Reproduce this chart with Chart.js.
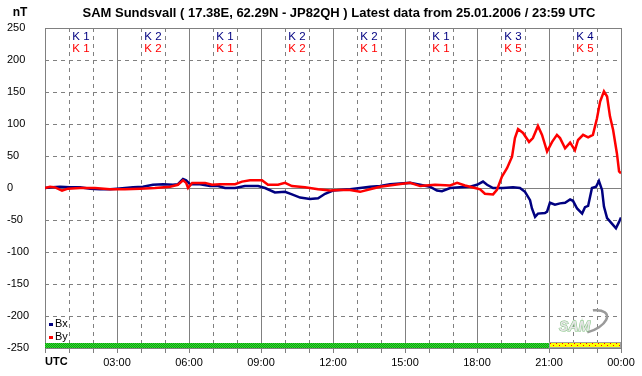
<!DOCTYPE html>
<html><head><meta charset="utf-8">
<script src="https://cdn.jsdelivr.net/npm/chart.js@4/dist/chart.umd.min.js"></script>
<style>html,body{margin:0;padding:0;background:#fff;}canvas{display:block;}</style>
</head><body>
<div style="width:642px;height:376px;position:relative"><canvas id="c" width="642" height="376"></canvas></div>
<script>
const titleText = "SAM Sundsvall ( 17.38E, 62.29N - JP82QH ) Latest data from 25.01.2006 / 23:59 UTC";
const unitLabel = "nT";
const seriesNames = ["Bx", "By"];
const seriesColors = ["#000080", "#ff0000"];

const bxHours = [0,0.29,0.63,1.04,1.46,1.88,2.29,2.71,3,3.33,3.67,4.08,4.5,4.92,5.33,5.54,5.75,5.88,6.04,6.46,6.88,7.21,7.5,7.92,8.33,8.88,9.17,9.58,10,10.29,10.63,11.04,11.38,11.67,12,12.29,12.71,13.13,13.54,13.96,14.38,14.79,15.21,15.63,16.04,16.33,16.54,16.88,17.29,17.71,18,18.25,18.42,18.67,19.08,19.5,19.79,20,20.21,20.29,20.42,20.54,20.83,20.92,21.04,21.25,21.46,21.67,21.88,22,22.17,22.38,22.5,22.63,22.79,22.96,23.08,23.21,23.29,23.42,23.63,23.79,23.92,24];
const bxValues = [0,1,2,1,1,-1,-2,-2,-1,0,1,2,5,6,5,6,14,12,6,6,3,3,0,0,3,3,0,-7,-6,-10,-15,-17,-16,-9,-4,-3,-2,0,2,3,6,7,8,5,2,-4,-5,0,1,2,5,10,5,0,0,1,0,-6,-19,-32,-45,-40,-39,-37,-23,-26,-24,-23,-18,-20,-32,-40,-30,-28,0,2,11,-3,-29,-47,-56,-63,-53,-46];

const byHours = [0,0.21,0.42,0.71,0.96,1.46,2.08,2.71,3.33,3.96,4.58,5.21,5.54,5.75,5.88,5.96,6.13,6.67,6.96,7.29,7.92,8.21,8.54,9.04,9.29,9.71,10,10.29,10.83,11.38,11.88,12.29,12.71,13.13,13.54,13.96,14.58,15.21,15.63,16.25,16.88,17.17,17.5,17.92,18.13,18.33,18.67,18.83,19.04,19.25,19.46,19.58,19.71,19.92,20.17,20.33,20.54,20.71,20.92,21.13,21.33,21.46,21.67,21.88,22.08,22.21,22.42,22.63,22.83,23,23.13,23.29,23.42,23.54,23.67,23.83,23.92,24];
const byValues = [0,2,1,-4,-1,0,0,-2,-2,-1,0,2,5,12,8,0,8,8,5,6,6,10,12,12,5,5,8,3,1,-2,-4,-3,-3,-6,-2,2,5,8,3,5,4,8,4,0,-2,-9,-10,-3,18,31,49,78,92,86,72,78,97,83,57,72,83,78,62,71,59,75,83,79,83,109,135,151,143,112,91,54,26,23];

const kIndexBx = [1,2,1,2,2,1,3,4];
const kIndexBy = [1,2,1,2,1,1,5,5];
const statusFrom = [0, 21];
const statusTo = [21, 24];
const statusKind = ["quiet", "active"];

const FONT = '"Liberation Sans", Arial, sans-serif';

function pair(h, v){ return h.map((t,i)=>({x:t, y:v[i]})); }
function hourLabel(v){ const h = v % 24; return (h<10?'0':'') + h + ':00'; }

const decorPlugin = {
  id: 'decor',
  beforeDatasetsDraw(chart){
    const {ctx, chartArea:a, scales:{x, y}} = chart;
    ctx.save();
    ctx.strokeStyle = '#808080';
    ctx.lineWidth = 1;
    ctx.setLineDash([4,4]);
    ctx.beginPath();
    for (let h = 1; h < 24; h++) {
      if (h % 3 === 0) continue;
      const px = Math.round(x.getPixelForValue(h)) + 0.5;
      ctx.moveTo(px, a.top); ctx.lineTo(px, a.bottom);
    }
    for (let v = -200; v <= 200; v += 50) {
      if (v === 0) continue;
      const py = Math.round(y.getPixelForValue(v)) + 0.5;
      ctx.moveTo(a.left, py); ctx.lineTo(a.right, py);
    }
    ctx.stroke();
    ctx.setLineDash([]);
    ctx.beginPath();
    for (let h = 0; h <= 24; h += 3) {
      const px = Math.round(x.getPixelForValue(h)) + 0.5;
      ctx.moveTo(px, a.top); ctx.lineTo(px, a.bottom);
    }
    for (const v of [-250, 0, 250]) {
      const py = Math.round(y.getPixelForValue(v)) + 0.5;
      ctx.moveTo(a.left, py); ctx.lineTo(a.right, py);
    }
    ctx.stroke();
    ctx.restore();
  },
  afterDatasetsDraw(chart){
    const {ctx, chartArea:a, scales:{x, y}} = chart;
    ctx.save();
    // status strip
    const g = document.createElement('canvas'); g.width = 2; g.height = 2;
    const gc = g.getContext('2d');
    gc.fillStyle = '#30e030'; gc.fillRect(0,0,2,2);
    gc.fillStyle = '#109a10'; gc.fillRect(0,0,1,1); gc.fillRect(1,1,1,1);
    const yel = document.createElement('canvas'); yel.width = 6; yel.height = 4;
    const yc = yel.getContext('2d');
    yc.fillStyle = '#ffff00'; yc.fillRect(0,0,6,4);
    yc.fillStyle = '#ff0000'; yc.fillRect(1,1,1,1); yc.fillRect(4,3,1,1);
    const top = a.bottom - 5;
    for (let i = 0; i < statusFrom.length; i++) {
      const x0 = x.getPixelForValue(statusFrom[i]);
      const x1 = x.getPixelForValue(statusTo[i]);
      ctx.fillStyle = ctx.createPattern(statusKind[i] === 'quiet' ? g : yel, 'repeat');
      ctx.fillRect(x0, top, x1 - x0, 5);
      if (statusKind[i] !== 'quiet') {
        ctx.strokeStyle = '#a0a0a0'; ctx.lineWidth = 1;
        ctx.strokeRect(Math.round(x0)+0.5, top-0.5, x1-x0-1, 5);
      }
    }
    // K indices
    ctx.font = '11.5px ' + FONT;
    ctx.textAlign = 'center';
    ctx.textBaseline = 'middle';
    for (let i = 0; i < kIndexBx.length; i++) {
      const cx = x.getPixelForValue(i*3 + 1.5);
      ctx.fillStyle = seriesColors[0];
      ctx.fillText('K ' + kIndexBx[i], cx, 37);
      ctx.fillStyle = seriesColors[1];
      ctx.fillText('K ' + kIndexBy[i], cx, 49);
    }
    // legend
    ctx.font = '11px ' + FONT;
    ctx.textAlign = 'left';
    seriesNames.forEach((n, i) => {
      const yy = 324 + i*13;
      ctx.fillStyle = seriesColors[i];
      ctx.fillRect(a.left + 4, yy - 1, 4, 3);
      ctx.fillStyle = '#000';
      ctx.fillText(n, a.left + 10, yy);
    });
    // UTC label
    ctx.font = 'bold 11px ' + FONT;
    ctx.textBaseline = 'top';
    ctx.fillText('UTC', x.getPixelForValue(0), a.bottom + 8);
    // title and unit
    ctx.font = 'bold 13px ' + FONT;
    ctx.textBaseline = 'middle';
    ctx.textAlign = 'center';
    ctx.fillText(titleText, 339, 13);
    ctx.font = 'bold 12px ' + FONT;
    ctx.fillText(unitLabel, 20, 13);
    // logo
    ctx.strokeStyle = '#9a9a9a'; ctx.lineWidth = 2.5;
    ctx.beginPath();
    ctx.ellipse(587, 322, 21, 10, -0.35, -0.35*Math.PI, 0.55*Math.PI);
    ctx.stroke();
    ctx.font = 'italic bold 14px ' + FONT;
    ctx.fillStyle = '#e6e6e6';
    ctx.strokeStyle = '#7cbf7c'; ctx.lineWidth = 1;
    ctx.textAlign = 'left';
    ctx.strokeText('SAM', 559, 327);
    ctx.fillText('SAM', 559, 327);
    ctx.restore();
  }
};

new Chart(document.getElementById('c'), {
  type: 'line',
  data: {
    datasets: [
      { label: seriesNames[0], data: pair(bxHours, bxValues), borderColor: seriesColors[0], borderWidth: 2.5, pointRadius: 0, tension: 0, order: 1 },
      { label: seriesNames[1], data: pair(byHours, byValues), borderColor: seriesColors[1], borderWidth: 2.5, pointRadius: 0, tension: 0, order: 0 }
    ]
  },
  options: {
    responsive: false,
    animation: false,
    devicePixelRatio: 1,
    layout: { padding: { left: 7, right: 21, top: 28, bottom: 0 } },
    plugins: { legend: { display: false }, tooltip: { enabled: false }, title: { display: false } },
    scales: {
      x: {
        type: 'linear', min: 0, max: 24,
        afterFit(s){ s.height = 28; },
        grid: { drawOnChartArea: false, drawTicks: true, tickLength: 5, color: '#808080' },
        border: { display: false },
        ticks: { stepSize: 1, autoSkip: false, maxRotation: 0, padding: 3, color: '#000', font: { family: FONT, size: 11 },
          callback: (v) => (v % 3 === 0 && v !== 0) ? hourLabel(v) : '' }
      },
      y: {
        min: -250, max: 250,
        afterFit(s){ s.width = 38; },
        grid: { display: false },
        border: { display: false },
        ticks: { stepSize: 50, crossAlign: 'far', color: '#000', font: { family: FONT, size: 11 } }
      }
    }
  },
  plugins: [decorPlugin]
});
</script>
</body></html>
